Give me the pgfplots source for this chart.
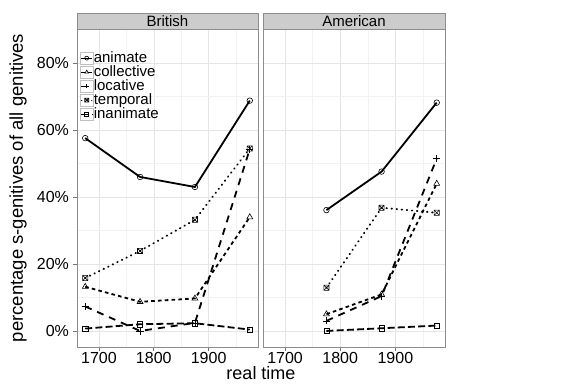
\documentclass[border=0pt]{standalone}
\usepackage{fontspec}
\setmainfont{Liberation Sans}
\usepackage{pgfplots}
\pgfplotsset{compat=1.18}

\pgfdeclareplotmark{squarex}{%
  \pgfpathrectangle{\pgfqpoint{-\pgfplotmarksize}{-\pgfplotmarksize}}{\pgfqpoint{2\pgfplotmarksize}{2\pgfplotmarksize}}%
  \pgfpathmoveto{\pgfqpoint{-\pgfplotmarksize}{-\pgfplotmarksize}}%
  \pgfpathlineto{\pgfqpoint{\pgfplotmarksize}{\pgfplotmarksize}}%
  \pgfpathmoveto{\pgfqpoint{-\pgfplotmarksize}{\pgfplotmarksize}}%
  \pgfpathlineto{\pgfqpoint{\pgfplotmarksize}{-\pgfplotmarksize}}%
  \pgfusepathqstroke}

\pgfplotsset{
  anim/.style={black, line width=1.8pt, solid, mark=o, mark size=2.8pt, mark options={solid, line width=0.6pt}},
  coll/.style={black, line width=1.8pt, dash pattern=on 3.6pt off 3.2pt, mark=triangle, mark size=3.4pt, mark options={solid, line width=0.6pt}},
  loca/.style={black, line width=1.8pt, dash pattern=on 7pt off 6pt, mark=+, mark size=3.6pt, mark options={solid, line width=0.6pt}},
  temp/.style={black, line width=1.9pt, line cap=round, dash pattern=on 0.5pt off 4.6pt, mark=squarex, mark size=2.6pt, mark options={solid, line width=0.6pt, line cap=butt}},
  inan/.style={black, line width=1.8pt, dash pattern=on 7pt off 3.2pt, mark=square, mark size=2.6pt, mark options={solid, line width=0.6pt}},
  panel/.style={
    scale only axis, height=318pt,
    xmin=1660, xmax=1990, ymin=-4.8, ymax=90.2,
    xtick={1700,1800,1900}, xticklabels={1700,1800,1900},
    minor xtick={1750,1850,1950},
    ytick={0,20,40,60,80}, minor ytick={10,30,50,70},
    grid=both,
    major grid style={black!10, line width=0.5pt},
    minor grid style={black!5, line width=0.4pt},
    axis line style={black!45, line width=0.6pt},
    tick align=outside, major tick length=4.5pt, minor tick length=0pt,
    tick style={black!55, line width=0.6pt},
    xtick pos=left, ytick pos=left,
    xticklabel style={font=\fontsize{16}{16}\selectfont, inner sep=0pt, text depth=0pt, yshift=-0.5pt},
    yticklabel style={font=\fontsize{16}{16}\selectfont},
    clip=false,
  },
}

\begin{document}
\begin{tikzpicture}
\path[use as bounding box] (0,0) rectangle (565pt,388pt);

\begin{axis}[panel, at={(77pt,41pt)}, anchor=south west, width=181pt,
  yticklabels={0\%,20\%,40\%,60\%,80\%},
  legend cell align=left,
  legend style={at={(0.017,0.931)}, anchor=north west, draw=none, fill=none,
    font=\fontsize{15}{15}\selectfont, row sep=0pt, inner sep=0pt,
    nodes={inner sep=0.6pt, text height=10.3pt, text depth=2.5pt}},
  legend image code/.code={%
    \draw[black!25, fill=white, solid, line width=0.4pt] (0pt,-6.3pt) rectangle (12.5pt,6.3pt);
    \draw[#1, line width=0.9pt, mark size=2pt, mark repeat=2, mark phase=2] plot coordinates {(1pt,0pt) (6.25pt,0pt) (11.5pt,0pt)};
  },
]
\addplot[anim] coordinates {(1675,57.6) (1775,46.0) (1875,43.0) (1975,68.8)};
\addlegendentry{animate}
\addplot[coll] coordinates {(1675,13.2) (1775,8.7) (1875,9.7) (1975,34.0)};
\addlegendentry{collective}
\addplot[loca] coordinates {(1675,7.3) (1775,0.0) (1875,2.4) (1975,54.3)};
\addlegendentry{locative}
\addplot[temp] coordinates {(1675,15.8) (1775,23.9) (1875,33.2) (1975,54.5)};
\addlegendentry{temporal}
\addplot[inan] coordinates {(1675,0.7) (1775,2.0) (1875,2.3) (1975,0.4)};
\addlegendentry{inanimate}
\draw[fill=black!20, draw=black!45, line width=0.6pt] (rel axis cs:0,1) rectangle ([yshift=16pt]rel axis cs:1,1);
\node[font=\fontsize{15}{15}\selectfont] at ([yshift=8pt]rel axis cs:0.5,1) {British};
\end{axis}

\begin{axis}[panel, at={(263pt,41pt)}, anchor=south west, width=182pt,
  yticklabels={}, y tick style={draw=none}]
\addplot[anim] coordinates {(1775,36.1) (1875,47.6) (1975,68.2)};
\addplot[coll] coordinates {(1775,5.0) (1875,10.9) (1975,44.0)};
\addplot[loca] coordinates {(1775,3.0) (1875,10.4) (1975,51.5)};
\addplot[temp] coordinates {(1775,12.9) (1875,36.8) (1975,35.3)};
\addplot[inan] coordinates {(1775,0.0) (1875,0.8) (1975,1.6)};
\draw[fill=black!20, draw=black!45, line width=0.6pt] (rel axis cs:0,1) rectangle ([yshift=16pt]rel axis cs:1,1);
\node[font=\fontsize{15}{15}\selectfont] at ([yshift=8pt]rel axis cs:0.5,1) {American};
\end{axis}

\node[rotate=90, font=\fontsize{18.5}{18.5}\selectfont] at (18pt,200pt) {percentage s-genitives of all genitives};
\node[anchor=base, font=\fontsize{18}{18}\selectfont, inner sep=0pt] at (261pt,8pt) {real time};
\end{tikzpicture}
\end{document}
